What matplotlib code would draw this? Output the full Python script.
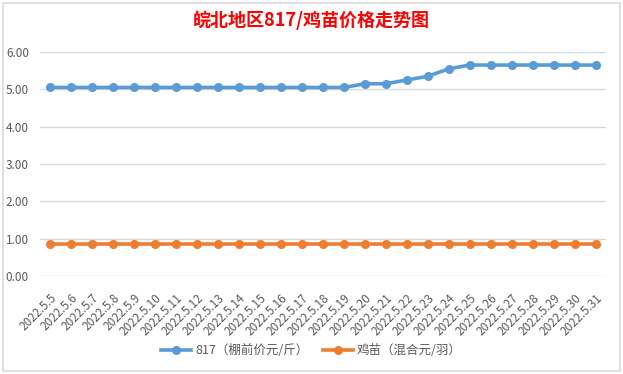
import matplotlib.pyplot as plt
from matplotlib.patches import Rectangle
from matplotlib.ticker import FormatStrFormatter

plt.rcParams['font.family'] = ['Noto Sans CJK SC', 'DejaVu Sans']

# 数据
dates = ["2022.5.%d" % d for d in range(5, 32)]
price_817 = [5.05] * 15 + [5.15, 5.15, 5.25, 5.35, 5.55] + [5.65] * 7
price_chick = [0.85] * 27

fig = plt.figure(figsize=(6.23, 3.74), dpi=100)
ax = fig.add_axes([0.0642, 0.262, 0.9085, 0.599])

x = range(len(dates))
ax.plot(x, price_817, color="#5B9BD5", lw=2.6, marker="o", ms=5.5,
        label="817（棚前价元/斤）", clip_on=False, zorder=3)
ax.plot(x, price_chick, color="#ED7D31", lw=2.6, marker="o", ms=5.5,
        label="鸡苗（混合元/羽）", clip_on=False, zorder=3)

ax.set_xlim(-0.5, len(dates) - 0.5)
ax.set_ylim(0, 6)
ax.set_yticks(range(0, 7))
ax.yaxis.set_major_formatter(FormatStrFormatter("%.2f"))
ax.grid(axis="y", color="#D9D9D9", lw=1)
ax.set_axisbelow(True)
for s in ax.spines.values():
    s.set_visible(False)
ax.tick_params(axis="both", length=0, colors="#595959", labelsize=8.5)
ax.tick_params(axis="y", pad=8)

ax.set_xticks(list(x))
ax.set_xticklabels(dates, rotation=45, ha="right", va="top",
                   rotation_mode="anchor", fontsize=8.5)
ax.tick_params(axis="x", pad=11)

fig.text(0.5, 0.945, "皖北地区817/鸡苗价格走势图", color="red",
         fontsize=13, fontweight="bold", ha="center", va="center")

leg = fig.legend(loc="center", bbox_to_anchor=(0.5, 0.062), ncol=2,
                 frameon=False, fontsize=9, handlelength=2.4,
                 columnspacing=1.2, handletextpad=0.3)
for t in leg.get_texts():
    t.set_color("#595959")

# 图表边框
fig.patches.append(Rectangle((3 / 623, 3 / 374), 617 / 623, 368 / 374,
                             transform=fig.transFigure, fill=False,
                             edgecolor="#D9D9D9", lw=1.2))

fig.savefig("out.png", dpi=100)
